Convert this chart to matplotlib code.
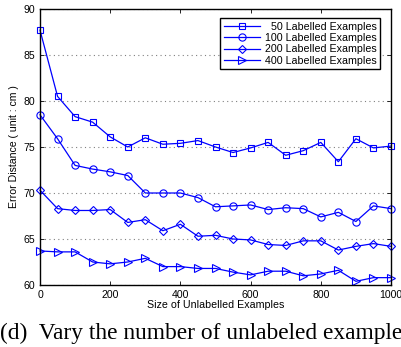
import numpy as np
import matplotlib.pyplot as plt

plt.rcParams['font.family'] = ['Liberation Sans', 'DejaVu Sans']

sizes = np.arange(0, 1001, 50)
err_50 = [87.7, 80.5, 78.3, 77.7, 76.1, 75.0, 76.0, 75.3, 75.4, 75.7, 75.0,
          74.4, 74.9, 75.5, 74.1, 74.6, 75.5, 73.4, 75.9, 74.9, 75.1]
err_100 = [78.5, 75.9, 73.0, 72.6, 72.3, 71.9, 70.0, 70.0, 70.0, 69.5, 68.5,
           68.6, 68.7, 68.2, 68.4, 68.3, 67.4, 67.9, 66.9, 68.6, 68.3]
err_200 = [70.3, 68.3, 68.1, 68.1, 68.2, 66.8, 67.1, 65.9, 66.6, 65.3, 65.4,
           65.0, 64.9, 64.4, 64.3, 64.8, 64.8, 63.8, 64.2, 64.5, 64.2]
err_400 = [63.7, 63.6, 63.6, 62.5, 62.3, 62.5, 62.9, 62.0, 62.0, 61.8, 61.8,
           61.4, 61.1, 61.5, 61.5, 61.0, 61.2, 61.6, 60.4, 60.8, 60.8]
labels = ['  50 Labelled Examples', '100 Labelled Examples',
          '200 Labelled Examples', '400 Labelled Examples']
markers = ['s', 'o', 'D', '>']
msizes = [4.5, 5.2, 4.2, 5.2]

fig = plt.figure(figsize=(4.01, 3.47), dpi=100)
ax = fig.add_axes([40 / 401, 1 - 285 / 347, 351 / 401, 276 / 347])

for ys, lab, m, ms in zip([err_50, err_100, err_200, err_400], labels, markers, msizes):
    ax.plot(sizes, ys, color='blue', lw=0.9, marker=m, markersize=ms,
            markerfacecolor='none', markeredgecolor='blue', markeredgewidth=0.8,
            label=lab, clip_on=False)

ax.set_xlim(0, 1000)
ax.set_ylim(60, 90)
ax.set_xticks(range(0, 1001, 200))
ax.set_yticks(range(60, 91, 5))
ax.yaxis.grid(True, linestyle=(0, (1, 3)), color='gray', lw=0.8)
ax.tick_params(direction='in', top=True, right=True, labelsize=7.6, length=3, width=0.6)
for sp in ax.spines.values():
    sp.set_linewidth(1.0)
ax.set_xlabel('Size of Unlabelled Examples', fontsize=7.7, labelpad=0)
ax.set_ylabel('Error Distance ( unit : cm )', fontsize=7.6, labelpad=3)

leg = ax.legend(loc='upper right', fontsize=7.7, fancybox=False, framealpha=1,
                edgecolor='black', handlelength=3.4, borderpad=0.3,
                labelspacing=0.12, handletextpad=0.5,
                bbox_to_anchor=(0.985, 0.985))
leg.get_frame().set_linewidth(1.0)

fig.text(0.0, 1 - 339 / 347, '(d)  Vary the number of unlabeled examples',
         fontsize=16.8, family=['Liberation Serif', 'DejaVu Serif'], ha='left', va='baseline')

fig.savefig('out.png', dpi=100)
